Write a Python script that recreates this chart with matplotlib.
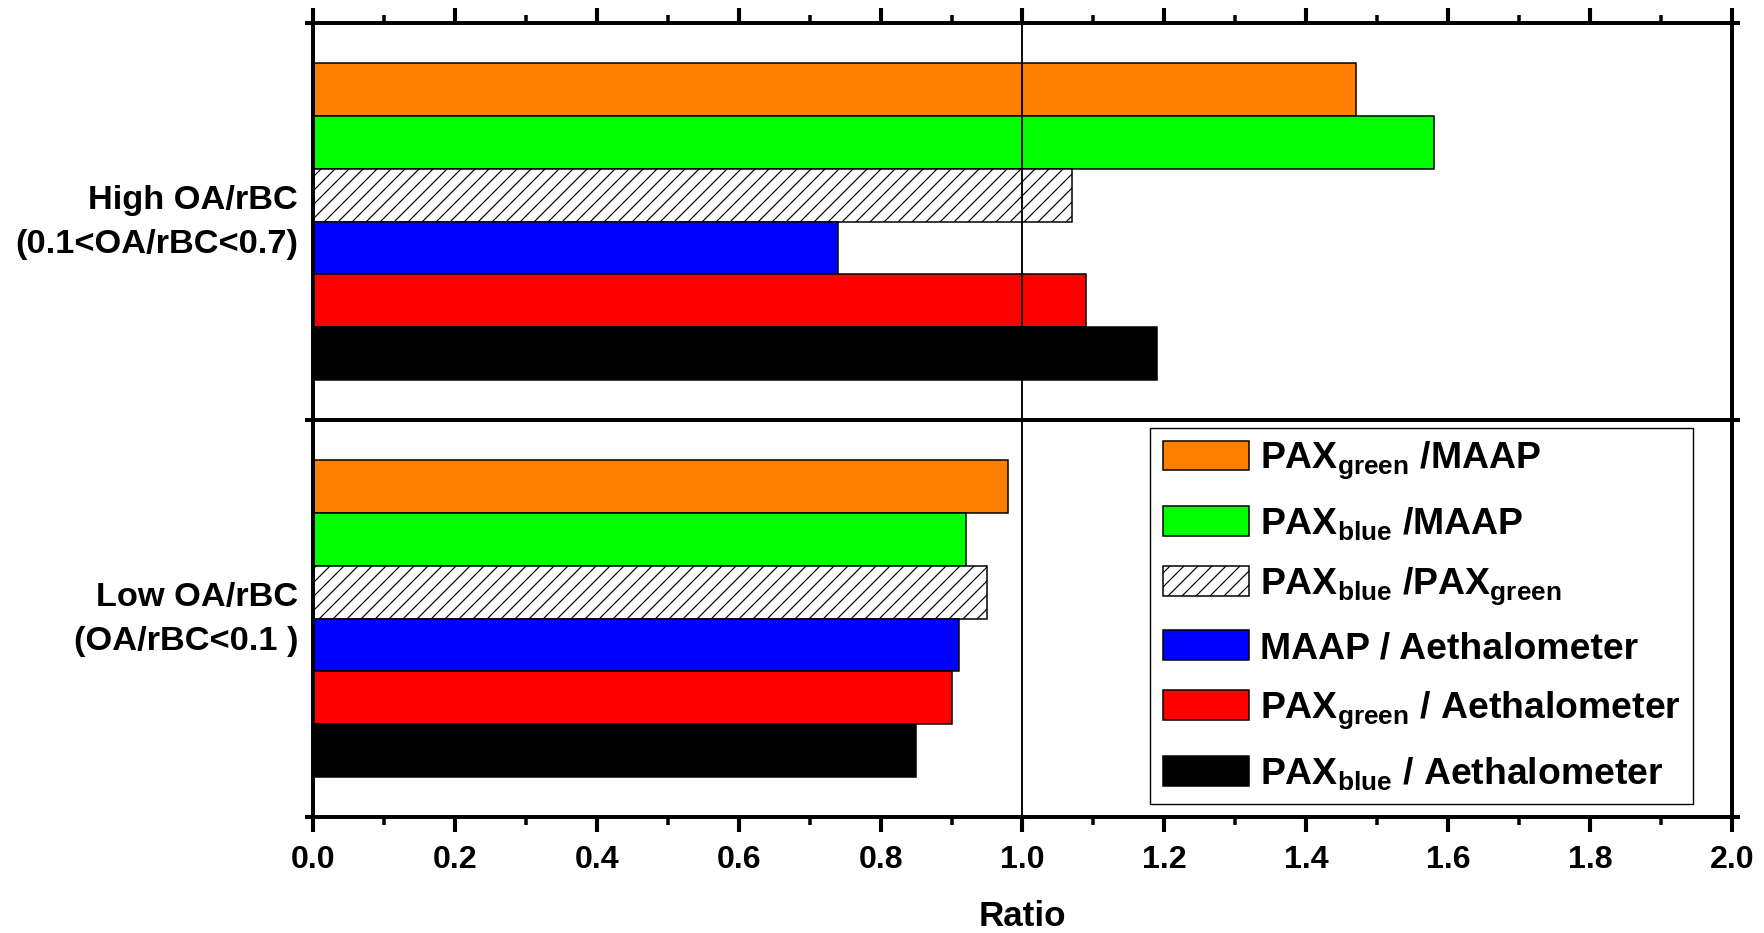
import matplotlib
matplotlib.use("Agg")
import matplotlib.pyplot as plt
from matplotlib import font_manager
from matplotlib.transforms import ScaledTranslation
import numpy as np

# ---- data -------------------------------------------------------------
categories = ["High OA/rBC\n(0.1<OA/rBC<0.7)", "Low OA/rBC\n(OA/rBC<0.1 )"]
series_labels = [
    r"PAX$_{\mathrm{green}}$ /MAAP",
    r"PAX$_{\mathrm{blue}}$ /MAAP",
    r"PAX$_{\mathrm{blue}}$ /PAX$_{\mathrm{green}}$",
    "MAAP / Aethalometer",
    r"PAX$_{\mathrm{green}}$ / Aethalometer",
    r"PAX$_{\mathrm{blue}}$ / Aethalometer",
]
pax_green_maap = [1.47, 0.98]
pax_blue_maap = [1.58, 0.92]
pax_blue_pax_green = [1.07, 0.95]
maap_aeth = [0.74, 0.91]
pax_green_aeth = [1.09, 0.90]
pax_blue_aeth = [1.19, 0.85]
series_values = [pax_green_maap, pax_blue_maap, pax_blue_pax_green,
                 maap_aeth, pax_green_aeth, pax_blue_aeth]
x_ticks = [0.0, 0.2, 0.4, 0.6, 0.8, 1.0, 1.2, 1.4, 1.6, 1.8, 2.0]

# ---- styling ----------------------------------------------------------
face_colors = ["#FF8000", "#00FF00", "white", "#0000FF", "#FF0000", "#000000"]
hatches = [None, None, "//", None, None, None]

installed = {f.name for f in font_manager.fontManager.ttflist}
base_font = "Liberation Sans" if "Liberation Sans" in installed else "DejaVu Sans"

plt.rcParams["font.family"] = [base_font, "DejaVu Sans"]
plt.rcParams["font.weight"] = "bold"
plt.rcParams["mathtext.fontset"] = "custom"
plt.rcParams["mathtext.rm"] = f"{base_font}:bold"
plt.rcParams["mathtext.it"] = f"{base_font}:bold"
plt.rcParams["mathtext.bf"] = f"{base_font}:bold"
plt.rcParams["hatch.color"] = "black"
plt.rcParams["hatch.linewidth"] = 1.0

DPI = 84
fig = plt.figure(figsize=(1764 / DPI, 933 / DPI), dpi=DPI)
ax = fig.add_axes([313 / 1764, 1 - 817 / 933, (1732 - 313) / 1764, (817 - 23) / 933])

positions = np.array([1.0, 0.0])   # High group on top, Low group below
n = len(series_values)
bar_h = 0.8 / n
handles = []
for i, (vals, fc, ht, lab) in enumerate(zip(series_values, face_colors, hatches, series_labels)):
    offs = (n / 2 - 0.5 - i) * bar_h
    b = ax.barh(positions + offs, vals, height=bar_h, color=fc, edgecolor="black",
                linewidth=1.3, hatch=ht, label=lab, zorder=2)
    handles.append(b)

ax.axvline(1.0, color="black", linewidth=1.6, zorder=3)
ax.axhline(0.5, color="black", linewidth=3.4, zorder=4)

ax.set_xlim(0, 2.0)
ax.set_ylim(-0.5, 1.5)

for s in ax.spines.values():
    s.set_linewidth(3.4)
    s.set_zorder(5)

# x axis: labelled bottom, unlabelled top, ticks pointing out
ax.set_xticks(x_ticks)
ax.set_xticklabels([f"{v:.1f}" for v in x_ticks], fontweight="bold", fontsize=27.5)
ax.set_xticks(np.arange(0.1, 2.0, 0.2), minor=True)
ax.tick_params(axis="x", which="major", direction="out", length=13, width=3.5,
               top=True, bottom=True, labeltop=False, pad=11)
ax.tick_params(axis="x", which="minor", direction="out", length=7, width=3,
               top=True, bottom=True)

# y axis: short outward ticks at the panel boundaries
ax.set_yticks([-0.5, 0.5, 1.5])
ax.set_yticklabels([])
ax.tick_params(axis="y", which="major", direction="out", length=7, width=3.5,
               left=True, right=True)

# group names to the left of each bar group
label_shift = ScaledTranslation(-15 / DPI, -1 / DPI, fig.dpi_scale_trans)
for pos, name in zip(positions, categories):
    ax.text(0, pos, name, transform=ax.get_yaxis_transform() + label_shift,
            ha="right", va="center", multialignment="right", linespacing=1.55,
            fontsize=29.5, fontweight="bold")

ax.set_xlabel("Ratio", fontweight="bold", fontsize=30, labelpad=21)

leg = ax.legend(handles=handles, loc="lower right",
                bbox_to_anchor=(0.9725, 0.0164), borderaxespad=0,
                prop={"family": base_font, "weight": "bold", "size": 32},
                frameon=True, fancybox=False, framealpha=1, edgecolor="black",
                handlelength=2.3, handleheight=0.85, handletextpad=0.3,
                labelspacing=0.63, borderpad=0.33)
leg.get_frame().set_linewidth(1.2)
leg.set_zorder(6)

fig.savefig("out.png", dpi=DPI)
